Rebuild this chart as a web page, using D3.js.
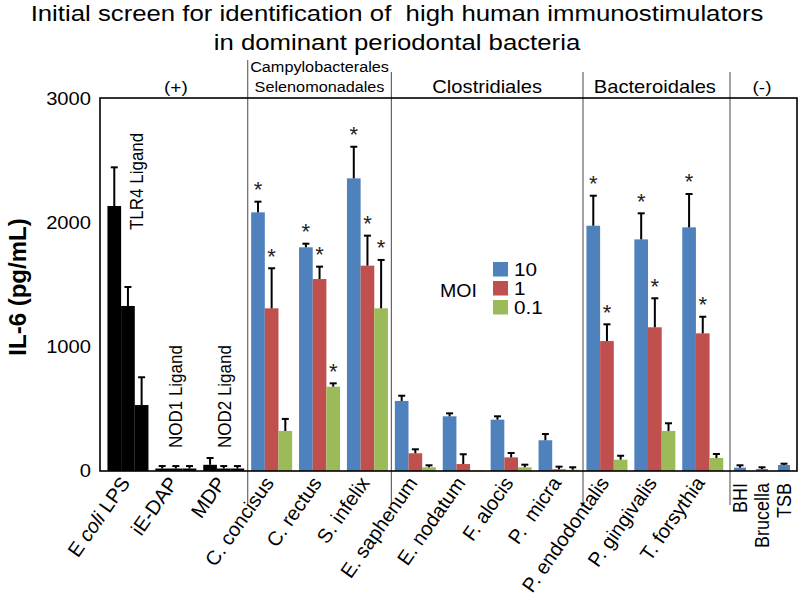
<!DOCTYPE html>
<html><head><meta charset="utf-8">
<script src="https://cdn.jsdelivr.net/npm/d3@7"></script>
<style>body{margin:0;background:#fff} text{font-family:"Liberation Sans",Arial,sans-serif}</style>
</head><body><svg id="c" width="800" height="601"></svg>
<script>
// ---- data ----
const categories = ["E coli LPS","iE-DAP","MDP","C. concisus","C. rectus","S. infelix","E. saphenum","E. nodatum","F. alocis","P.  micra","P. endodontalis","P. gingivalis","T. forsythia"];
const moi10  = [2137, 20, 50, 2086, 1804, 2360, 565, 441, 414, 248, 1978, 1868, 1965];
const moi1   = [1331, 20, 20, 1312, 1548, 1656, 143, 56, 110, 14, 1048, 1159, 1110];
const moi01  = [532, 20, 20, 323, 680, 1312, 30, 5, 30, 10, 91, 323, 105];
const err10  = [312, 20, 55, 86, 29, 255, 42, 24, 27, 50, 242, 210, 269];
const err1   = [153, 20, 20, 323, 100, 242, 32, 79, 35, 21, 135, 234, 134];
const err01  = [224, 20, 20, 97, 27, 390, 16, 0, 21, 20, 32, 62, 32];
const sig10  = [0,0,0,1,1,1,0,0,0,0,1,1,1];
const sig1   = [0,0,0,1,1,1,0,0,0,0,1,1,1];
const sig01  = [0,0,0,0,1,1,0,0,0,0,0,0,0];
const seriesNames = ["10","1","0.1"];
const controls = ["BHI","Brucella","TSB"];
const controlValues = [27, 16, 48];
const controlErrors = [19, 14, 11];
const yTicks = [0, 1000, 2000, 3000];
const groupNames = [["(+)"],["Campylobacterales","Selenomonadales"],["Clostridiales"],["Bacteroidales"],["(-)"]];
const groupSpans = [[0,2],[3,5],[6,9],[10,12]];
const ligandLabels = ["TLR4 Ligand","NOD1 Ligand","NOD2 Ligand"];

const seriesValues = [moi10, moi1, moi01];
const seriesErrors = [err10, err1, err01];
const seriesSig = [sig10, sig1, sig01];
const seriesColors = ["#4f81bd","#c0504d","#9bbb59"];

// ---- layout ----
const svg = d3.select("#c");
const SX = 1.12;
const L = 100, R = 797, T = 98, B = 471;
const y = d3.scaleLinear().domain([0,3000]).range([B, 99]);
const x = d3.scaleBand().domain(categories).range([104, 726.7]);
const xs = d3.scaleBand().domain([0,1,2]).range([-20.5, 20.5]);
const xc = d3.scaleBand().domain(controls).range([729, 795]);

function stext(g, px, py, str, o) {
  o = o || {};
  const t = g.append("text")
    .attr("transform", `translate(${px},${py}) scale(${SX},1)` + (o.rotate ? ` rotate(${o.rotate})` : ""))
    .attr("text-anchor", o.anchor || "middle")
    .attr("font-size", o.size || 18)
    .attr("font-weight", o.weight || "normal")
    .attr("fill", o.fill || "#000");
  if (o.baseline) t.attr("dominant-baseline", o.baseline);
  t.text(str);
  return t;
}

// title
stext(svg, 397, 21, "Initial screen for identification of\u00a0 high human immunostimulators", {size: 23});
stext(svg, 397, 50, "in dominant periodontal bacteria", {size: 23});

// y axis title
svg.append("text").attr("transform","translate(17,287) rotate(-90)")
  .attr("text-anchor","middle").attr("dominant-baseline","central")
  .attr("font-size",24).attr("font-weight","bold").text("IL-6 (pg/mL)");

// y axis ticks
const ya = svg.append("g").attr("transform",`translate(${L},0)`)
  .call(d3.axisLeft(y).tickValues(yTicks).tickSize(0).tickPadding(9).tickFormat(d3.format("d")));
ya.select(".domain").remove();
ya.selectAll("text").attr("font-size",18).attr("font-family","Liberation Sans, Arial, sans-serif")
  .attr("fill","#000").attr("transform",`scale(${SX},1)`).attr("x",-9/SX);

// separators
const sepX = [x(categories[3]), x(categories[6]), x(categories[10]), 730];
const sepTop = [60, 72, 72, 72];
sepX.forEach((sx,i) => {
  svg.append("line").attr("x1",sx).attr("x2",sx).attr("y1",sepTop[i]).attr("y2",505)
    .attr("stroke","#666").attr("stroke-width",1.2);
});

// group headers
const headerX = groupSpans.map(([a,b]) => (x(categories[a]) + x(categories[b]) + x.bandwidth())/2);
headerX.push(xc("Brucella") + xc.bandwidth()/2);
stext(svg, headerX[0], 93, groupNames[0][0], {size: 17});
stext(svg, headerX[1], 72, groupNames[1][0], {size: 14.5});
stext(svg, headerX[1], 92, groupNames[1][1], {size: 14.5});
stext(svg, headerX[2], 93, groupNames[2][0], {size: 18});
stext(svg, headerX[3], 93, groupNames[3][0], {size: 18});
stext(svg, headerX[4], 93, groupNames[4][0], {size: 17});

// bars
const gb = svg.append("g");
categories.forEach((c,i) => {
  const cx = x(c) + x.bandwidth()/2;
  seriesValues.forEach((vals,s) => {
    const v = vals[i], e = seriesErrors[s][i];
    const bx = cx + xs(s);
    const w = xs.bandwidth();
    gb.append("rect").attr("x",bx).attr("y",y(v)).attr("width",w).attr("height",y(0)-y(v))
      .attr("fill", i < 3 ? "#000" : seriesColors[s]);
    if (e > 0) {
      const mx = bx + w/2;
      gb.append("line").attr("x1",mx).attr("x2",mx).attr("y1",y(v)).attr("y2",y(v+e)).attr("stroke","#000").attr("stroke-width",2);
      gb.append("line").attr("x1",mx-3.5).attr("x2",mx+3.5).attr("y1",y(v+e)).attr("y2",y(v+e)).attr("stroke","#000").attr("stroke-width",2);
    }
    if (seriesSig[s][i]) {
      gb.append("text").attr("x",bx + w/2).attr("y",y(v+e) - 4.5).attr("text-anchor","middle")
        .attr("font-size",22).attr("fill","#222").text("*");
    }
  });
});
controls.forEach((c,i) => {
  const cx = xc(c) + xc.bandwidth()/2;
  const v = controlValues[i], e = controlErrors[i];
  gb.append("rect").attr("x",cx-6).attr("y",y(v)).attr("width",12).attr("height",y(0)-y(v)).attr("fill",seriesColors[0]);
  gb.append("line").attr("x1",cx).attr("x2",cx).attr("y1",y(v)).attr("y2",y(v+e)).attr("stroke","#000").attr("stroke-width",2);
  gb.append("line").attr("x1",cx-3.5).attr("x2",cx+3.5).attr("y1",y(v+e)).attr("y2",y(v+e)).attr("stroke","#000").attr("stroke-width",2);
});

// frame
svg.append("rect").attr("x",L).attr("y",T).attr("width",R-L).attr("height",B-T)
  .attr("fill","none").attr("stroke","#000").attr("stroke-width",1.6);

// ligand labels
const ligX = [137, x(categories[1]) + x.bandwidth()/2, x(categories[2]) + x.bandwidth()/2 + 1];
ligandLabels.forEach((t,i) => {
  const yy = i === 0 ? 230 : 448;
  stext(svg, ligX[i], yy, t, {size: 17, rotate: -90, anchor: "start", baseline: "central"});
});

// x labels
categories.forEach((c,i) => {
  const cx = x(c) + x.bandwidth()/2;
  const t = svg.append("text").attr("transform",`translate(${cx+3},483) rotate(-55)`)
    .attr("text-anchor","end").attr("font-size",20).style("white-space","pre");
  if (c === "E coli LPS") {
    t.append("tspan").text("E ");
    t.append("tspan").attr("font-style","italic").text("coli");
    t.append("tspan").text(" LPS");
  } else t.text(c);
});
controls.forEach((c) => {
  const cx = xc(c) + xc.bandwidth()/2;
  stext(svg, cx, 483, c, {size: 18, rotate: -90, anchor: "end", baseline: "central"});
});

// legend
stext(svg, 440, 297, "MOI", {size: 17.5, anchor: "start"});
seriesNames.forEach((n,i) => {
  const sy = 262 + 19*i;
  svg.append("rect").attr("x",493).attr("y",sy).attr("width",15).attr("height",14.5).attr("fill",seriesColors[i]);
  stext(svg, 514, sy + 13.5, n, {size: 18.5, anchor: "start"});
});
</script></body></html>
